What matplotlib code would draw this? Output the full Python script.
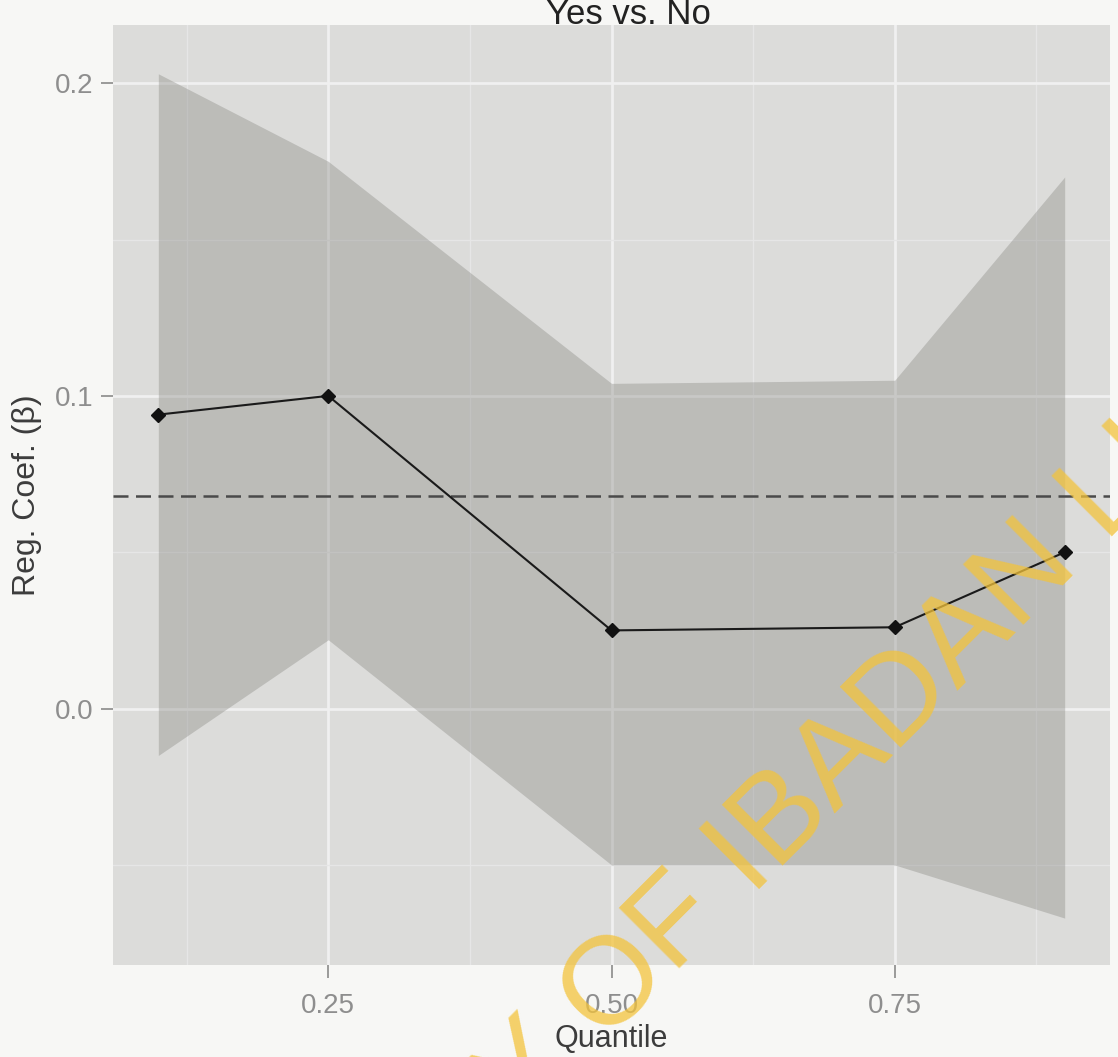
import matplotlib
matplotlib.use("Agg")
import matplotlib.pyplot as plt
from matplotlib.ticker import FixedLocator

plt.rcParams['font.family'] = ['Liberation Sans', 'DejaVu Sans']

# Quantile regression estimates with confidence band, plus the OLS estimate
quantiles = [0.10, 0.25, 0.50, 0.75, 0.90]
coef = [0.094, 0.100, 0.025, 0.026, 0.050]
ci_upper = [0.203, 0.175, 0.104, 0.105, 0.170]
ci_lower = [-0.015, 0.022, -0.050, -0.050, -0.067]
ols_coef = 0.068

x_ticks = [0.25, 0.50, 0.75]
x_ticklabels = ["0.25", "0.50", "0.75"]
y_ticks = [0.0, 0.1, 0.2]
y_ticklabels = ["0.0", "0.1", "0.2"]

W, H = 1118, 1057
fig = plt.figure(figsize=(W / 100, H / 100), dpi=100)
fig.patch.set_facecolor('#F7F7F5')

left, right, top, bottom = 113, 1110, 25, 965
ax = fig.add_axes([left / W, 1 - bottom / H, (right - left) / W, (bottom - top) / H])
ax.set_facecolor('#DCDCDA')

ax.set_xlim(0.06, 0.94)
ax.set_ylim(-0.082, 0.2186)

# grid: major and minor white lines beneath the data
ax.xaxis.set_major_locator(FixedLocator(x_ticks))
ax.xaxis.set_minor_locator(FixedLocator([0.125, 0.375, 0.625, 0.875]))
ax.yaxis.set_major_locator(FixedLocator(y_ticks))
ax.yaxis.set_minor_locator(FixedLocator([-0.05, 0.05, 0.15]))
ax.grid(True, which='major', color='#F0F0F0', lw=2.0)
ax.grid(True, which='minor', color='#E6E6E6', lw=1.0)
ax.set_axisbelow(True)
ax.tick_params(which='minor', length=0)

ax.set_xticklabels(x_ticklabels)
ax.set_yticklabels(y_ticklabels)
ax.tick_params(which='major', length=9, width=1.2, color='#8A8A8A',
               labelsize=20, labelcolor='#8E8E8E')
ax.tick_params(axis='x', pad=11)
ax.tick_params(axis='y', pad=5)

for s in ax.spines.values():
    s.set_visible(False)

# confidence band
ax.fill_between(quantiles, ci_lower, ci_upper, color='#8C8C87', alpha=0.4,
                lw=0, zorder=2)
# OLS reference
ax.axhline(ols_coef, color='#4A4A4A', lw=1.8, dashes=(6, 3), zorder=3)
# quantile estimates
ax.plot(quantiles, coef, color='#1A1A1A', lw=1.5, marker='D', ms=7,
        mfc='#111111', mec='#111111', zorder=4)

ax.set_xlabel('Quantile', fontsize=22, color='#3C3C3C', labelpad=4)
ax.set_ylabel('Reg. Coef. (β)', fontsize=23, color='#3C3C3C', labelpad=9)

fig.text(628 / W, 1 - 24 / H, 'Yes vs. No', ha='center', va='baseline',
         fontsize=25, color='#222222')

# library watermark
ang = 45
x0, y0 = 604 / W, 1 - 1044 / H
wm = dict(fontsize=90, fontweight='normal', color='#F3C33B', alpha=0.75,
          rotation=ang, rotation_mode='anchor', va='baseline', zorder=10)
fig.text(x0, y0, 'UNIVERSITY ', ha='right', **wm)
fig.text(x0, y0, 'OF IBADAN LIBRARY', ha='left', **wm)

fig.savefig('out.png', dpi=100, facecolor=fig.get_facecolor())
